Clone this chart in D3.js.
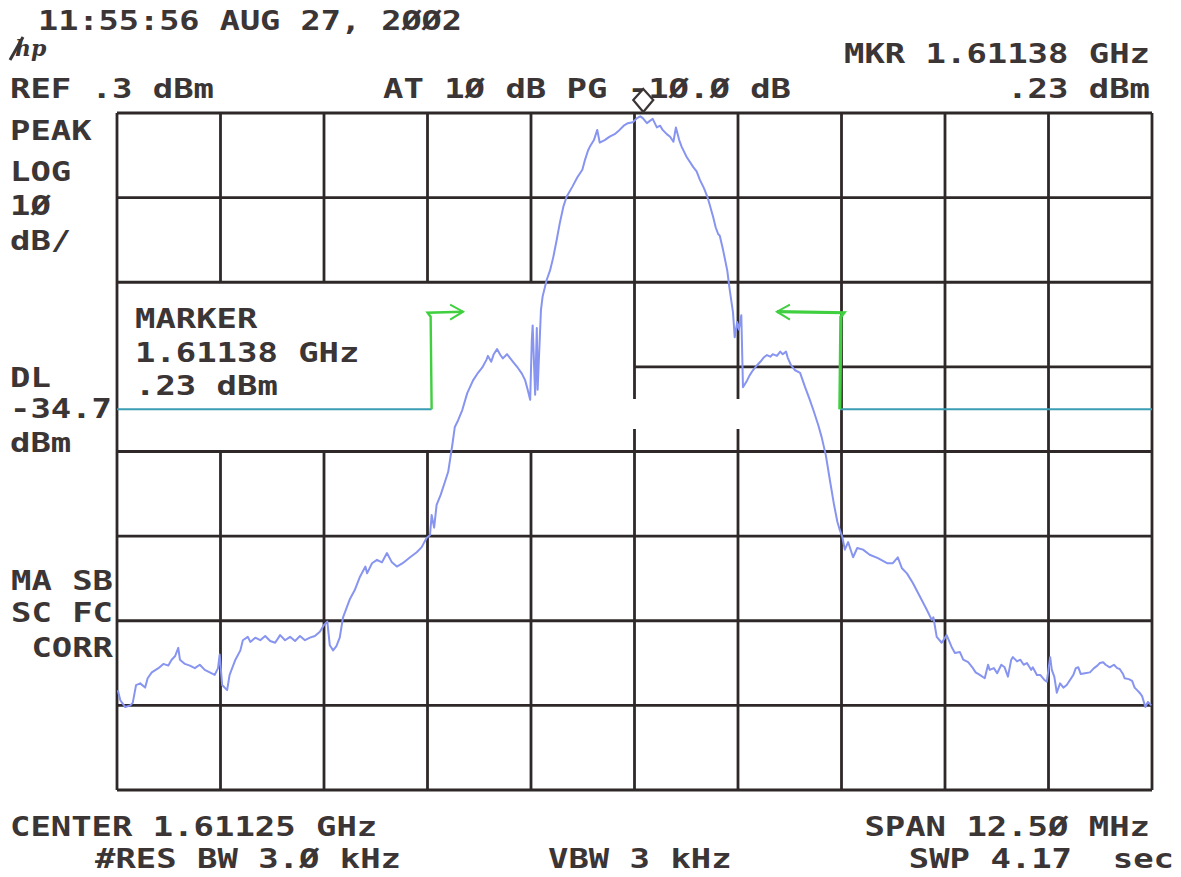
<!DOCTYPE html>
<html>
<head>
<meta charset="utf-8">
<script src="https://cdn.jsdelivr.net/npm/d3@7/dist/d3.min.js"></script>
<style>
body { margin: 0; background: #fff; }
text.lbl { font-family: "DejaVu Sans Mono", monospace; font-weight: bold; fill: #3b3535; white-space: pre; }
</style>
</head>
<body>
<script>
var width = 1181,
    height = 877,
    cell = 20.4;

// grid divisions: freq offset from center (MHz), level (dBm)
var gridFreqs = [-6.25, -5, -3.75, -2.5, -1.25, 0, 1.25, 2.5, 3.75, 5, 6.25];
var gridLevels = [0.3, -9.7, -19.7, -29.7, -39.7, -49.7, -59.7, -69.7, -79.7];

// display line and the two hand drawn limit brackets
var dlLevel = -34.7;
var bracketFreqs = [-2.45, 2.48];
var arrowTips = [-2.07, 1.72];
var bracketTop = -23.3;
var markerFreq = 0.13;

// trace: freq offset (MHz) and level (dBm)
var traceFreq = [-6.24,-6.21,-6.15,-6.09,-6.06,-6.02,-5.97,-5.91,-5.88,-5.83,-5.75,-5.69,-5.63,-5.59,-5.55,-5.51,-5.49,-5.43,-5.37,-5.31,
  -5.25,-5.19,-5.13,-5.07,-5.03,-5.01,-4.98,-4.92,-4.89,-4.82,-4.76,-4.73,-4.67,-4.64,-4.58,-4.52,-4.46,-4.40,-4.34,-4.28,
  -4.22,-4.16,-4.10,-4.04,-3.98,-3.92,-3.86,-3.80,-3.75,-3.71,-3.68,-3.64,-3.60,-3.56,-3.52,-3.44,-3.38,-3.32,-3.25,-3.23,
  -3.17,-3.11,-3.05,-2.99,-2.93,-2.87,-2.80,-2.71,-2.63,-2.57,-2.51,-2.47,-2.45,-2.42,-2.39,-2.34,-2.29,-2.25,-2.20,-2.17,
  -2.13,-2.08,-2.02,-1.95,-1.89,-1.84,-1.79,-1.77,-1.73,-1.70,-1.66,-1.62,-1.59,-1.54,-1.50,-1.46,-1.41,-1.36,-1.32,-1.29,
  -1.26,-1.24,-1.23,-1.20,-1.18,-1.17,-1.13,-1.11,-1.06,-1.02,-0.98,-0.94,-0.90,-0.86,-0.82,-0.75,-0.69,-0.63,-0.60,-0.56,
  -0.54,-0.49,-0.45,-0.42,-0.36,-0.30,-0.24,-0.18,-0.13,-0.08,-0.02,0.03,0.07,0.10,0.15,0.19,0.22,0.27,0.31,0.34,
  0.39,0.43,0.47,0.50,0.54,0.57,0.63,0.71,0.75,0.79,0.84,0.88,0.91,0.95,0.98,1.01,1.03,1.07,1.12,1.15,
  1.19,1.21,1.24,1.26,1.29,1.31,1.36,1.39,1.43,1.48,1.52,1.56,1.60,1.64,1.67,1.72,1.76,1.79,1.83,1.85,
  1.89,1.94,2.00,2.06,2.11,2.16,2.22,2.26,2.31,2.36,2.41,2.45,2.48,2.51,2.54,2.58,2.64,2.69,2.76,2.84,
  2.94,3.05,3.12,3.18,3.23,3.29,3.36,3.45,3.53,3.59,3.61,3.65,3.71,3.77,3.83,3.87,3.93,3.97,4.03,4.08,
  4.12,4.17,4.23,4.27,4.29,4.34,4.38,4.43,4.47,4.51,4.55,4.57,4.62,4.66,4.70,4.74,4.79,4.81,4.86,4.90,
  4.95,4.98,5.02,5.04,5.07,5.10,5.14,5.18,5.22,5.26,5.30,5.33,5.36,5.39,5.44,5.50,5.55,5.59,5.62,5.66,
  5.69,5.74,5.79,5.83,5.86,5.90,5.92,5.97,6.01,6.04,6.07,6.10,6.13,6.17,6.20,6.24];
var traceLevel = [-67.9,-69.1,-69.9,-69.7,-69.4,-67.3,-67.1,-67.6,-66.5,-65.8,-65.3,-64.8,-65.0,-64.3,-63.9,-62.9,-64.3,-64.8,-65.0,-65.3,
  -64.9,-65.5,-65.8,-66.1,-65.3,-63.7,-67.3,-67.9,-66.1,-64.3,-63.2,-62.0,-61.6,-62.2,-61.7,-62.0,-61.5,-62.1,-62.3,-61.4,
  -62.0,-61.6,-62.1,-61.5,-62.0,-61.7,-61.5,-61.0,-60.2,-59.8,-62.6,-63.2,-62.7,-61.7,-59.3,-57.2,-56.1,-54.6,-53.3,-54.1,
  -52.9,-52.5,-52.8,-51.7,-52.8,-53.3,-52.9,-52.2,-51.6,-51.0,-49.9,-49.6,-47.2,-48.7,-46.0,-44.8,-43.3,-42.1,-38.9,-36.8,
  -36.0,-34.8,-32.8,-31.3,-30.4,-29.8,-28.9,-28.4,-29.1,-28.2,-27.6,-28.3,-28.7,-28.2,-28.7,-29.2,-29.8,-30.5,-31.3,-32.4,
  -33.6,-26.5,-24.8,-33.0,-25.1,-32.4,-23.0,-21.4,-19.4,-18.3,-16.7,-14.7,-12.6,-10.8,-9.6,-8.4,-7.3,-6.4,-5.3,-4.1,
  -3.7,-2.9,-1.7,-3.2,-2.9,-2.5,-2.2,-1.7,-1.2,-0.9,-0.8,-0.3,-0.1,-0.3,-0.9,-0.6,-0.4,-1.4,-1.2,-1.7,
  -2.2,-2.5,-3.1,-1.4,-2.9,-3.7,-4.9,-6.1,-6.6,-7.6,-8.6,-9.6,-10.6,-12.0,-13.2,-14.0,-14.2,-15.9,-18.3,-20.6,
  -23.3,-26.2,-24.4,-25.3,-23.6,-32.1,-31.3,-30.7,-30.1,-29.5,-29.1,-28.6,-28.3,-28.5,-28.2,-28.4,-27.9,-28.2,-27.9,-28.6,
  -29.5,-30.1,-30.4,-32.1,-33.4,-34.8,-36.6,-38.0,-40.1,-43.1,-46.0,-48.0,-49.0,-49.8,-51.3,-50.4,-52.2,-51.1,-51.3,-51.9,
  -52.3,-52.9,-52.9,-52.2,-53.5,-54.1,-55.2,-56.9,-58.4,-59.6,-59.3,-61.6,-62.3,-61.4,-62.8,-63.5,-63.4,-64.3,-64.6,-65.2,
  -65.8,-66.1,-66.5,-64.9,-65.5,-65.3,-65.9,-64.9,-65.2,-66.3,-64.3,-64.0,-64.5,-64.3,-64.9,-64.7,-65.5,-65.2,-66.1,-66.1,
  -66.7,-66.9,-64.0,-65.5,-66.3,-68.2,-67.1,-67.6,-67.3,-66.7,-66.1,-65.3,-65.2,-66.0,-65.9,-65.8,-65.3,-65.0,-64.7,-64.6,
  -64.9,-65.2,-64.9,-65.3,-65.4,-66.0,-66.5,-66.6,-66.8,-67.6,-67.9,-68.2,-68.6,-69.9,-69.3,-69.7];

var svg = d3.select("body")
            .append("svg")
            .attr("width", width)
            .attr("height", height);

svg.append("rect").attr("width", width).attr("height", height).attr("fill", "#fff");

var x = d3.scaleLinear().domain([-6.25, 6.25]).range([117, 1152]);
var y = d3.scaleLinear().domain([-79.7, 0.3]).range([790, 113]);

var gridColor = "#2f2828";

function seg(x1, y1, x2, y2) {
    svg.append("line")
       .attr("x1", x1).attr("y1", y1).attr("x2", x2).attr("y2", y2)
       .attr("stroke", gridColor)
       .attr("stroke-width", 2.8);
}

// vertical grid, left half blanked behind the marker readout
gridFreqs.forEach(function(f){
    if (f < 0 && f > -6.25) {
        seg(x(f), y(0.3), x(f), y(-19.7));
        seg(x(f), y(-39.7), x(f), y(-79.7));
    } else {
        seg(x(f), y(0.3), x(f), y(-79.7));
    }
});

// horizontal grid
gridLevels.forEach(function(l){
    if (l == -29.7) {
        seg(x(0), y(l), x(6.25), y(l));
    } else {
        seg(x(-6.25), y(l), x(6.25), y(l));
    }
});

// white smear across the display line
svg.append("rect")
   .attr("x", x(-2.3)).attr("y", 399)
   .attr("width", x(1.55) - x(-2.3)).attr("height", 30)
   .attr("fill", "#fff");

// display line, outside the brackets only
[[-6.25, bracketFreqs[0]], [bracketFreqs[1], 6.25]].forEach(function(r){
    svg.append("line")
       .attr("x1", x(r[0])).attr("x2", x(r[1]))
       .attr("y1", y(dlLevel)).attr("y2", y(dlLevel))
       .attr("stroke", "#3a9db3")
       .attr("stroke-width", 2);
});

// trace
var pts = traceFreq.map(function(f, i){ return [f, traceLevel[i]]; });
var line = d3.line()
             .x(function(d){ return x(d[0]); })
             .y(function(d){ return y(d[1]); });
svg.append("path")
   .datum(pts)
   .attr("d", line)
   .attr("fill", "none")
   .attr("stroke", "#8794f0")
   .attr("stroke-width", 2)
   .attr("stroke-linejoin", "round");

// green brackets with arrows
var green = "#3fcf3f";
bracketFreqs.forEach(function(f, i){
    var xb = x(f), xt = x(arrowTips[i]), yt = y(bracketTop), dir = i == 0 ? 1 : -1;
    svg.append("path")
       .attr("d", "M" + xb + "," + y(dlLevel) + " L" + (xb - dir) + "," + (yt + 4) + " L" + (xb - 4 * dir) + "," + yt + " L" + xt + "," + (yt - 1))
       .attr("fill", "none")
       .attr("stroke", green)
       .attr("stroke-width", i == 0 ? 2.4 : 3.2);
    svg.append("path")
       .attr("d", "M" + (xt - 13 * dir) + "," + (yt - 8) + " L" + xt + "," + (yt - 1) + " L" + (xt - 13 * dir) + "," + (yt + 7))
       .attr("fill", "none")
       .attr("stroke", green)
       .attr("stroke-width", 2);
});

// text helpers
function label(str, x0, yb, n) {
    n = n || str.length;
    svg.append("text")
       .attr("class", "lbl")
       .attr("xml:space", "preserve")
       .attr("x", x0).attr("y", yb)
       .attr("font-size", 26)
       .attr("textLength", n * cell)
       .attr("lengthAdjust", "spacingAndGlyphs")
       .text(str);
}
function labelR(str, xEnd, yb) {
    label(str, xEnd - str.length * cell, yb);
}

svg.append("text")
   .attr("class", "lbl")
   .attr("x", 38).attr("y", 30)
   .attr("font-size", 26)
   .attr("textLength", 424)
   .attr("lengthAdjust", "spacingAndGlyphs")
   .text("11:55:56 AUG 27, 2ØØ2");

// hp logo
svg.append("text")
   .attr("x", 15).attr("y", 56)
   .attr("font-family", "DejaVu Serif")
   .attr("font-style", "italic")
   .attr("font-weight", "bold")
   .attr("font-size", 22)
   .attr("fill", "#3b3535")
   .text("hp");
svg.append("line")
   .attr("x1", 10).attr("y1", 60).attr("x2", 23).attr("y2", 37)
   .attr("stroke", "#3b3535").attr("stroke-width", 3);

labelR("MKR 1.61138 GHz", 1150, 63);
label("REF .3 dBm", 10, 98);
label("AT 1Ø dB PG -1Ø.Ø dB", 383, 98);
labelR(".23 dBm", 1150, 98);

label("PEAK", 10, 140);
label("LOG", 10, 181);
label("1Ø", 10, 215);
label("dB/", 10, 250);

label("DL", 10, 387);
label("-34.7", 10, 418);
label("dBm", 10, 452);

label("MARKER", 135, 328);
label("1.61138 GHz", 135, 362);
label(".23 dBm", 135, 395);

labelR("MA SB", 113, 590);
labelR("SC FC", 113, 622);
labelR("CORR", 113, 657);

label("CENTER 1.61125 GHz", 10, 836);
labelR("SPAN 12.5Ø MHz", 1150, 836);
label("#RES BW 3.Ø kHz", 95, 868);
label("VBW 3 kHz", 548, 868);
labelR("SWP 4.17  sec", 1174, 868);

// marker diamond on top of the peak
var mx = x(markerFreq) - 2;
svg.append("path")
   .attr("d", "M" + mx + ",89 L" + (mx + 10) + ",100 L" + mx + ",112 L" + (mx - 10) + ",100 Z")
   .attr("fill", "#fff")
   .attr("stroke", "#3b3535")
   .attr("stroke-width", 2.2);
</script>
</body>
</html>
